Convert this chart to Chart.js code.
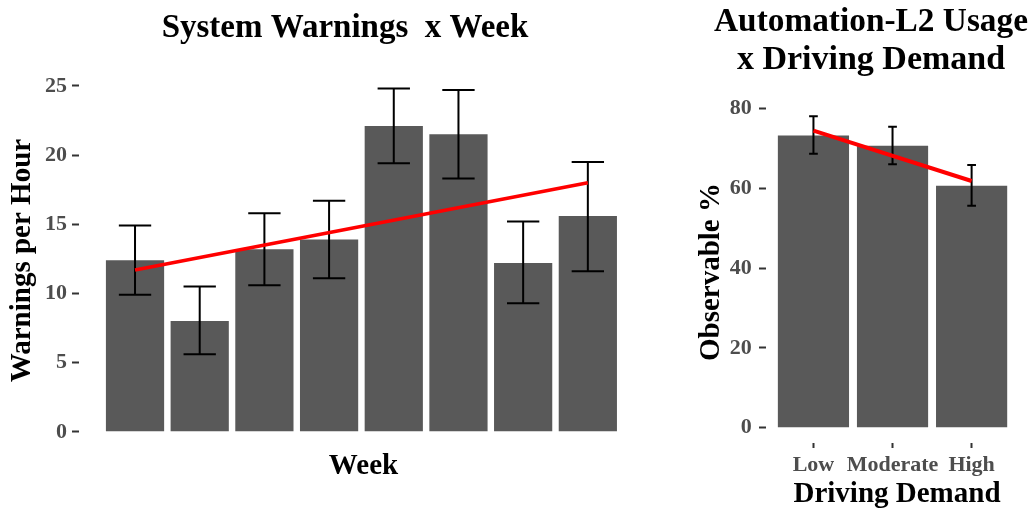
<!DOCTYPE html>
<html>
<head>
<meta charset="utf-8">
<script src="https://cdn.jsdelivr.net/npm/chart.js@4"></script>
<style>
  html, body { margin: 0; padding: 0; background: #fff; overflow: hidden; }
  #warnBox { position: absolute; left: 0; top: 0; width: 660px; height: 508px; }
  #usageBox { position: absolute; left: 690px; top: 0; width: 342px; height: 508px; }
</style>
</head>
<body>
<div id="warnBox"><canvas id="warnChart"></canvas></div>
<div id="usageBox"><canvas id="usageChart"></canvas></div>
<script>
// left panel: warnings per hour by week
const weeks = [1, 2, 3, 4, 5, 6, 7, 8];
const warnings = [12.4, 8.0, 13.2, 13.9, 22.1, 21.5, 12.2, 15.6];
const warnLow = [9.9, 5.6, 10.6, 11.1, 19.4, 18.3, 9.3, 11.6];
const warnHigh = [14.9, 10.5, 15.8, 16.7, 24.8, 24.7, 15.2, 19.5];
const warnTrendWeeks = [1, 8];
const warnTrend = [11.7, 18.0];
const warnTicks = [0, 5, 10, 15, 20, 25];

// right panel: observable % by driving demand
const demand = ['Low', 'Moderate', 'High'];
const demandPos = [1, 2, 3];
const usage = [73.2, 70.6, 60.6];
const usageLow = [68.6, 66.0, 55.6];
const usageHigh = [78.0, 75.4, 65.8];
const usageTrendPos = [1, 3];
const usageTrend = [74.4, 61.8];
const usageTicks = [0, 20, 40, 60, 80];

const serif = "'Liberation Serif', 'Times New Roman', serif";
const barColor = '#595959';
const tickGrey = '#4d4d4d';

function makeErrorBars(at, low, high, capWidth) {
  return {
    id: 'errorBars',
    afterDatasetDraw(chart, args) {
      if (args.meta.type !== 'bar') return;
      const { ctx, scales: { x, y } } = chart;
      ctx.save();
      ctx.strokeStyle = '#000';
      ctx.lineWidth = 2;
      at.forEach((pos, i) => {
        const cx = x.getPixelForValue(pos);
        const x0 = x.getPixelForValue(pos - capWidth / 2);
        const x1 = x.getPixelForValue(pos + capWidth / 2);
        const yl = y.getPixelForValue(low[i]);
        const yh = y.getPixelForValue(high[i]);
        ctx.beginPath();
        ctx.moveTo(cx, yl); ctx.lineTo(cx, yh);
        ctx.moveTo(x0, yl); ctx.lineTo(x1, yl);
        ctx.moveTo(x0, yh); ctx.lineTo(x1, yh);
        ctx.stroke();
      });
      ctx.restore();
    }
  };
}

function titleFont(size, lh) {
  return { family: serif, size: size, weight: 'bold', lineHeight: lh || 1.2 };
}

new Chart(document.getElementById('warnChart'), {
  type: 'bar',
  data: {
    datasets: [
      {
        type: 'line',
        data: warnTrendWeeks.map((w, i) => ({ x: w, y: warnTrend[i] })),
        borderColor: '#ff0000',
        borderWidth: 3.5,
        pointRadius: 0,
        order: 0
      },
      {
        type: 'bar',
        data: weeks.map((w, i) => ({ x: w, y: warnings[i] })),
        backgroundColor: barColor,
        categoryPercentage: 1,
        barPercentage: 0.9,
        order: 1
      }
    ]
  },
  options: {
    animation: false,
    responsive: true,
    maintainAspectRatio: false,
    layout: { padding: { left: 42, right: 12, top: 0, bottom: 0 } },
    plugins: {
      legend: { display: false },
      tooltip: { enabled: false },
      title: {
        display: true,
        text: 'System Warnings  x Week',
        color: '#000',
        font: titleFont(33),
        padding: { top: 9.1, bottom: 23.3 }
      }
    },
    scales: {
      x: {
        type: 'linear',
        min: 0.134,
        max: 8.93,
        offset: false,
        grid: { display: false },
        border: { display: false },
        ticks: { display: false },
        afterBuildTicks: s => { s.ticks = weeks.map(v => ({ value: v })); },
        afterFit: s => { s.height = 59; },
        title: { display: true, text: 'Week', color: '#000', font: titleFont(29), padding: { top: 0, bottom: 23.7 } }
      },
      y: {
        min: -1.24,
        max: 26.0,
        grid: { drawOnChartArea: false, drawTicks: true, tickLength: 7, tickColor: '#333', tickWidth: 2 },
        border: { display: false },
        ticks: { color: tickGrey, font: { family: serif, size: 22, weight: 'bold' }, padding: 5 },
        afterBuildTicks: s => { s.ticks = warnTicks.map(v => ({ value: v })); },
        afterFit: s => { s.width = 37; },
        title: { display: true, text: 'Warnings per Hour', color: '#000', font: titleFont(29), padding: { top: -36.4, bottom: 0 } }
      }
    }
  },
  plugins: [makeErrorBars(weeks, warnLow, warnHigh, 0.5)]
});

new Chart(document.getElementById('usageChart'), {
  type: 'bar',
  data: {
    datasets: [
      {
        type: 'line',
        data: usageTrendPos.map((p, i) => ({ x: p, y: usageTrend[i] })),
        borderColor: '#ff0000',
        borderWidth: 4,
        pointRadius: 0,
        order: 0
      },
      {
        type: 'bar',
        data: demandPos.map((p, i) => ({ x: p, y: usage[i] })),
        backgroundColor: barColor,
        categoryPercentage: 1,
        barPercentage: 0.9,
        order: 1
      }
    ]
  },
  options: {
    animation: false,
    responsive: true,
    maintainAspectRatio: false,
    layout: { padding: { left: 24, right: 4, top: 0, bottom: 0 } },
    plugins: {
      legend: { display: false },
      tooltip: { enabled: false },
      title: {
        display: true,
        text: ['Automation-L2 Usage', 'x Driving Demand'],
        color: '#000',
        font: titleFont(34, 1.13),
        padding: { top: 2.6, bottom: 21.6 }
      }
    },
    scales: {
      x: {
        type: 'linear',
        min: 0.4,
        max: 3.713,
        offset: false,
        grid: { offset: false, drawOnChartArea: false, drawTicks: true, tickLength: 5, tickColor: '#333', tickWidth: 2 },
        border: { display: false },
        ticks: {
          color: tickGrey,
          font: { family: serif, size: 22, weight: 'bold' },
          padding: 3.8,
          maxRotation: 0,
          autoSkip: false,
          callback: v => demand[demandPos.indexOf(v)]
        },
        afterBuildTicks: s => { s.ticks = demandPos.map(v => ({ value: v })); },
        afterFit: s => { s.height = 65; },
        title: { display: true, text: 'Driving Demand', color: '#000', font: titleFont(29), padding: { top: 0, bottom: -3.6 } }
      },
      y: {
        min: -3.83,
        max: 81.83,
        grid: { drawOnChartArea: false, drawTicks: true, tickLength: 7, tickColor: '#333', tickWidth: 2 },
        border: { display: false },
        ticks: { color: tickGrey, font: { family: serif, size: 22, weight: 'bold' }, padding: 7.3 },
        afterBuildTicks: s => { s.ticks = usageTicks.map(v => ({ value: v })); },
        afterFit: s => { s.width = 52; },
        title: { display: true, text: 'Observable %', color: '#000', font: titleFont(29), padding: { top: -19.7, bottom: 0 } }
      }
    }
  },
  plugins: [makeErrorBars(demandPos, usageLow, usageHigh, 0.11)]
});
</script>
</body>
</html>
